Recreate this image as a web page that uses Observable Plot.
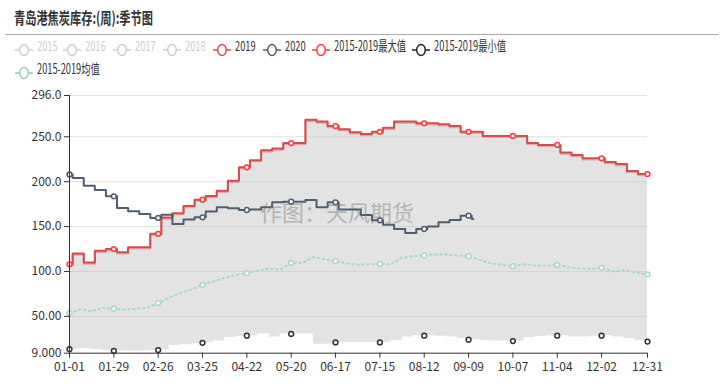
<!DOCTYPE html>
<html><head><meta charset="utf-8">
<script src="https://cdn.jsdelivr.net/npm/d3@7"></script>
<script src="https://cdn.jsdelivr.net/npm/@observablehq/plot@0.6"></script>
<style>
body{margin:0;background:#fff;font-family:"Noto Sans CJK SC","Noto Sans",sans-serif;}
#wrap{position:relative;width:723px;height:391px;overflow:hidden;}
.abs{position:absolute;white-space:nowrap;}
#title{left:14px;top:6px;font-size:16px;font-weight:bold;color:#333;transform:scaleX(0.70);transform-origin:left top;line-height:22px;}
#hr{left:5px;top:34px;width:713px;height:1px;background:#aaa;}
.lt{font-size:14px;line-height:16px;transform:scaleX(0.66);transform-origin:left center;color:#333;}
#wm{left:260px;top:198px;font-size:22px;line-height:26px;color:rgba(110,110,110,0.42);}
#chart{position:absolute;left:0;top:80px;}
</style></head>
<body><div id="wrap">
<div id="title" class="abs">青岛港焦炭库存:(周):季节图</div>
<div id="hr" class="abs"></div>
<div id="legend"></div>
<div id="chart"></div>
<div id="wm" class="abs">作图：天风期货</div>
</div>
<script>
// ---- data ----
const legendNames = ["2015","2016","2017","2018","2019","2020","2015-2019最大值","2015-2019最小值","2015-2019均值"];
const legendColors = ["#ccc","#ccc","#ccc","#ccc","#d14f4f","#4f5f6f","#ff3b3b","#222","#96cfb6"];
const legendSymX = [15,63,113,163,213,263,312,412,15];
const legendRow = [0,0,0,0,0,0,0,0,1];

// 2019 weekly values (value on 01-01, then each week)
const start2019 = 108;
const y2019 = [120,110,123,125,121.5,127,127,142,160,165,173,180,184,190,201,216,224,235,237,243,243,269,267,262,258.5,255,253,255.5,260,267,267,265,265,264,262,255.5,255.5,251,251,251,251,243,241,241,232.6,229.6,226,226,222,219.6,212,208.5];
// 2015-2019 max (coincides with 2019)
const startMax = 108;
const yMax = y2019;
// 2020 weekly values
const start2020 = 208;
const y2020 = [204,195.5,190.7,183.7,170.7,167,164,159.6,163.3,153,157.8,160.3,166.7,171.5,170.4,168.5,169,171.5,177,177.8,177.8,179.6,171.5,177,169,169,163,157,152,147.4,143,147.4,150,154.8,157.4,162.2,158.5];
const end2020 = 255;
// 2015-2019 min, weekly from 01-01
const yMin = [13.5,14,13,12,11.5,11.5,11.5,12,12.5,17.5,18.5,19.5,20.5,22.5,26.5,27.5,28.5,30.5,27,30.5,30.5,30.5,19,19,21,21,20.8,21,21,23,27,28.5,28.5,28,27,25.5,24,23,22.5,22.5,22.5,26.5,27.5,28.5,28.5,27,27,28,28.5,27,25.5,23,22];
// 2015-2019 mean, weekly from 01-01
const yMean = [53.7,57.8,55.6,59.6,58.5,57.4,58.5,59.6,64.8,71,76,80,85.2,89,93,96,98.1,101,103.5,102,109.6,109.6,116,113.5,111.5,109,107.4,108,108.5,108,115.5,117,117.8,118.9,118.9,118,117,113,109,107.5,105.9,108,106.8,106.5,107.4,104.8,103.5,103,104.1,100,101.5,99,96.7];
const yTicks = [9,50,100,150,200,250,296];
const lastDay = 365; // 12-31 (2020 calendar)
const xTicks = [...d3.range(0, 337, 28), lastDay];

// ---- build ----
const wk = (arr, start, off) => [{d:0, v:start}, ...arr.map((v,k)=>({d:off+7*k, v}))];
const s2019 = wk(y2019, start2019, 2); s2019.push({d:lastDay, v:y2019[y2019.length-1]});
const sMax = wk(yMax, startMax, 2); sMax.push({d:lastDay, v:yMax[yMax.length-1]});
const s2020 = wk(y2020, start2020, 2); s2020.push({d:end2020, v:y2020[y2020.length-1]});
const sMin = yMin.map((v,k)=>({d:k === yMin.length-1 ? lastDay : 7*k, v}));
const sMean = yMean.map((v,k)=>({d:k === yMean.length-1 ? lastDay : 7*k, v}));
const at = (s, d) => { const i = d3.bisector(p=>p.d).right(s, d) - 1; return s[Math.max(0,i)].v; };
const marks = (s, maxD=lastDay) => xTicks.filter(d=>d<=maxD).map(d=>({d, v:at(s,d)}));
const fmtDay = d => d3.utcFormat("%m-%d")(new Date(Date.UTC(2020,0,1+d)));
const fmtY = d => d < 10 ? d.toFixed(3) : d < 100 ? d.toFixed(2) : d.toFixed(1);

const chart = Plot.plot({
  width: 723, height: 311,
  marginTop: 15, marginBottom: 38.3, marginLeft: 69, marginRight: 76,
  x: {domain:[0,lastDay], axis:null},
  y: {domain:[9,296], axis:null},
  style: {fontFamily:'"Noto Sans CJK SC","Noto Sans",sans-serif', fontSize:"12px", color:"#333", background:"transparent"},
  marks: [
    Plot.ruleY(yTicks.slice(1), {stroke:"#e0e0e0", strokeWidth:1}),
    Plot.areaY(sMax, {x:"d", y1:9, y2:"v", curve:"step-after", fill:"#c8c8c8", fillOpacity:0.5}),
    Plot.areaY(sMin, {x:"d", y1:9, y2:"v", curve:"step-after", fill:"#fff"}),
    Plot.line(sMean, {x:"d", y:"v", stroke:"#a6d9c6", strokeWidth:2, strokeDasharray:"1.5,3.5"}),
    Plot.line(sMax, {x:"d", y:"v", curve:"step-after", stroke:"#eba3a3", strokeWidth:2, dy:1.2}),
    Plot.line(s2019, {x:"d", y:"v", curve:"step-after", stroke:"#d14f4f", strokeWidth:2}),
    Plot.line(s2020, {x:"d", y:"v", curve:"step-after", stroke:"#4f5f6f", strokeWidth:2}),
    Plot.dot(marks(sMean), {x:"d", y:"v", r:2.4, fill:"#fff", stroke:"#a6d9c6", strokeWidth:1.5}),
    Plot.dot(marks(sMin), {x:"d", y:"v", r:2.4, fill:"#fff", stroke:"#333", strokeWidth:1.5}),
    Plot.dot(marks(s2020, end2020), {x:"d", y:"v", r:2.4, fill:"#fff", stroke:"#4f5f6f", strokeWidth:1.5}),
    Plot.dot(marks(sMax), {x:"d", y:"v", r:2.4, fill:"#fff", stroke:"#ff3b3b", strokeWidth:1.5}),
    Plot.ruleX([0], {stroke:"#333", strokeWidth:1}),
    Plot.ruleY([9], {stroke:"#333", strokeWidth:1}),
    Plot.axisY({ticks:yTicks, tickFormat:fmtY, tickSize:5, tickPadding:3, stroke:"#333", color:"#333", label:null}),
    Plot.axisX({ticks:xTicks, tickFormat:fmtDay, tickSize:5, tickPadding:4, stroke:"#333", color:"#333", label:null})
  ]
});
document.getElementById("chart").appendChild(chart);

// ---- legend ----
const lg = document.getElementById("legend");
legendNames.forEach((name,i)=>{
  const cy = legendRow[i] ? 68 : 44.5;
  const c = legendColors[i];
  const sym = document.createElement("div");
  sym.className = "abs";
  sym.style.left = legendSymX[i] + "px";
  sym.style.top = (cy - 7) + "px";
  sym.innerHTML = `<svg width="18" height="14"><line x1="0" x2="18" y1="7" y2="7" stroke="${c}" stroke-width="1.5"/><ellipse cx="9" cy="7" rx="4.3" ry="5.5" fill="#fff" stroke="${c}" stroke-width="1.5"/></svg>`;
  lg.appendChild(sym);
  const t = document.createElement("div");
  t.className = "abs lt";
  t.style.left = (legendSymX[i] + 22) + "px";
  t.style.top = (cy - 8) + "px";
  t.style.color = i < 4 ? "#ccc" : "#333";
  t.textContent = name;
  lg.appendChild(t);
});
</script>
</body></html>
